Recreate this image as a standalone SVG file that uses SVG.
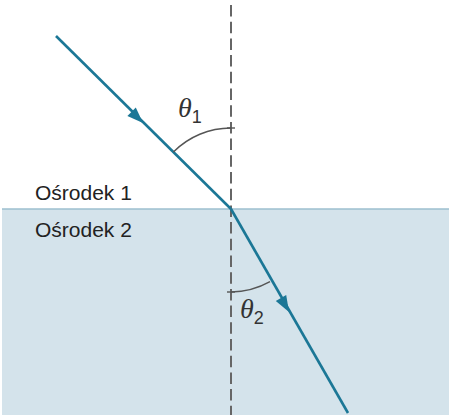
<svg xmlns="http://www.w3.org/2000/svg" width="450" height="415" viewBox="0 0 450 415">
<style>
.ray{stroke:#1b7796;stroke-width:2.6;fill:none}
.head{fill:#1b7796}
.arc{stroke:#555;stroke-width:1.4;fill:none}
.lbl{font-family:"Liberation Sans",Arial,sans-serif;font-size:21px;fill:#222}
.th{font-family:"Liberation Serif","Times New Roman",serif;font-style:italic;font-size:28px;fill:#333}
.sub{font-family:"Liberation Sans",Arial,sans-serif;font-style:normal;font-size:18px;fill:#333}
</style>
<rect id="medium2" x="2" y="209" width="447" height="206" fill="#d4e3eb"/>
<line id="boundary" x1="2" y1="209" x2="449" y2="209" stroke="#9cbfcf" stroke-width="1.6"/>
<line id="normal" x1="231" y1="5" x2="231" y2="415" stroke="#666" stroke-width="2" stroke-dasharray="11.5 5.2"/>
<g id="connectors">
<path class="ray" d="M56,36 L231,209"/>
<path class="head" d="M143,123 L135.8,107.5 L127.4,116.1 z"/>
<path class="ray" d="M231,209 L348,413"/>
<path class="head" d="M289,312 L286.2,295.1 L275.8,301.1 z"/>
</g>
<g id="angle1">
<path class="arc" d="M173.4,152 A81,81 0 0 1 231,128"/>
<line x1="227" y1="128" x2="235" y2="128" stroke="#555" stroke-width="1.4"/>
<text class="th" x="178" y="117">θ<tspan class="sub" dy="6">1</tspan></text>
</g>
<g id="angle2">
<path class="arc" d="M231,292 A83,83 0 0 0 270,281.6"/>
<line x1="227" y1="292" x2="235" y2="292" stroke="#555" stroke-width="1.4"/>
<text class="th" x="240" y="318">θ<tspan class="sub" dy="6">2</tspan></text>
</g>
<g id="label1"><text class="lbl" x="35" y="200">Ośrodek 1</text></g>
<g id="label2"><text class="lbl" x="35" y="237">Ośrodek 2</text></g>
</svg>
